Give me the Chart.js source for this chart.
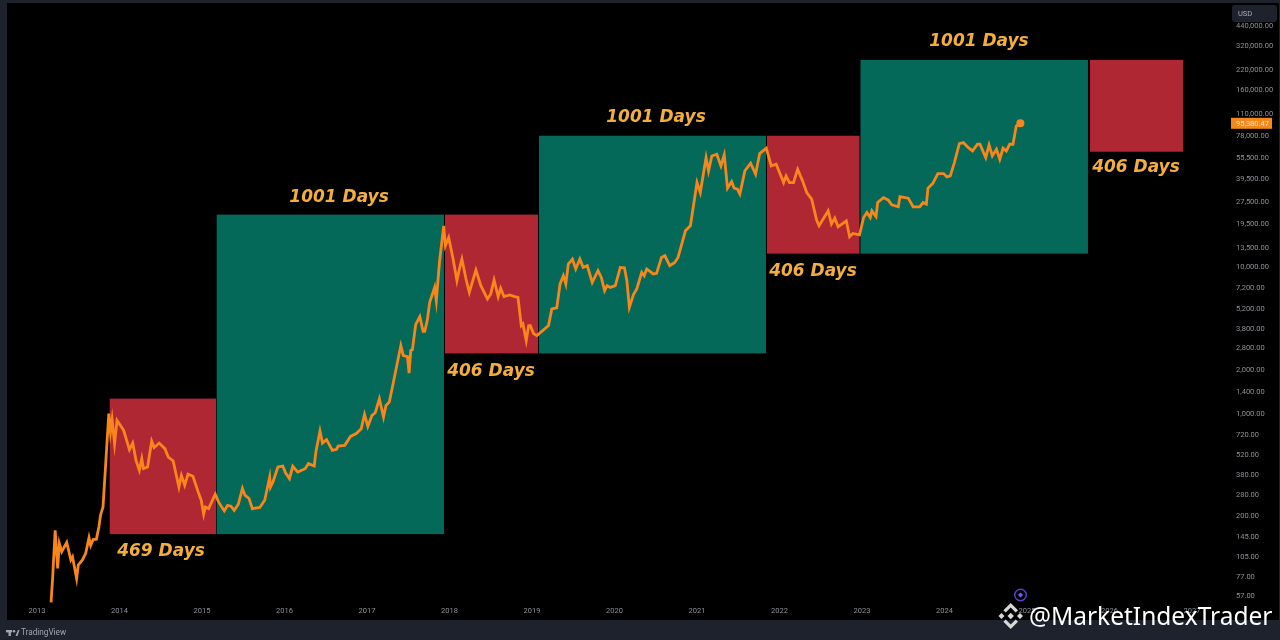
<!DOCTYPE html>
<html>
<head>
<meta charset="utf-8">
<title>BTC cycles</title>
<script src="https://cdn.jsdelivr.net/npm/chart.js@4"></script>
<style>
  html, body { margin: 0; padding: 0; background: #000; }
  canvas { display: block; }
</style>
</head>
<body>
<canvas id="cycleChart" width="1280" height="640"></canvas>
<script>
// price line (decimal year / USD)
const priceYears = [
  2013.17, 2013.19, 2013.22, 2013.25, 2013.27, 2013.30, 2013.36, 2013.41, 2013.43, 2013.48,
  2013.50, 2013.55, 2013.59, 2013.63, 2013.65, 2013.68, 2013.72, 2013.75, 2013.77, 2013.80,
  2013.84, 2013.87, 2013.89, 2013.91, 2013.94, 2013.97, 2014.03, 2014.05, 2014.12, 2014.16,
  2014.20, 2014.24, 2014.27, 2014.29, 2014.34, 2014.39, 2014.42, 2014.48, 2014.55, 2014.59,
  2014.65, 2014.72, 2014.75, 2014.79, 2014.83, 2014.89, 2014.96, 2014.99, 2015.02, 2015.04,
  2015.08, 2015.16, 2015.20, 2015.27, 2015.31, 2015.35, 2015.39, 2015.44, 2015.49, 2015.52,
  2015.57, 2015.61, 2015.70, 2015.76, 2015.82, 2015.83, 2015.86, 2015.92, 2015.98, 2016.01,
  2016.06, 2016.10, 2016.16, 2016.25, 2016.29, 2016.36, 2016.38, 2016.43, 2016.46, 2016.51,
  2016.58, 2016.63, 2016.65, 2016.73, 2016.80, 2016.87, 2016.93, 2016.97, 2017.01, 2017.06,
  2017.10, 2017.15, 2017.20, 2017.23, 2017.27, 2017.32, 2017.41, 2017.44, 2017.49, 2017.51,
  2017.53, 2017.55, 2017.59, 2017.64, 2017.68, 2017.70, 2017.73, 2017.76, 2017.82, 2017.84,
  2017.88, 2017.93, 2017.95, 2017.99, 2018.04, 2018.09, 2018.12, 2018.15, 2018.20, 2018.24,
  2018.32, 2018.38, 2018.46, 2018.50, 2018.54, 2018.59, 2018.62, 2018.66, 2018.73, 2018.79,
  2018.83, 2018.87, 2018.89, 2018.93, 2018.96, 2018.98, 2019.02, 2019.06, 2019.20, 2019.24,
  2019.30, 2019.34, 2019.38, 2019.41, 2019.44, 2019.49, 2019.53, 2019.58, 2019.62, 2019.67,
  2019.73, 2019.80, 2019.84, 2019.88, 2019.91, 2019.95, 2020.01, 2020.07, 2020.12, 2020.15,
  2020.18, 2020.23, 2020.27, 2020.33, 2020.36, 2020.39, 2020.47, 2020.51, 2020.57, 2020.61,
  2020.67, 2020.73, 2020.77, 2020.86, 2020.92, 2021.00, 2021.04, 2021.11, 2021.14, 2021.18,
  2021.24, 2021.29, 2021.33, 2021.37, 2021.42, 2021.45, 2021.49, 2021.52, 2021.58, 2021.65,
  2021.71, 2021.76, 2021.84, 2021.90, 2021.96, 2022.05, 2022.08, 2022.12, 2022.17, 2022.22,
  2022.28, 2022.33, 2022.39, 2022.45, 2022.48, 2022.59, 2022.63, 2022.67, 2022.71, 2022.81,
  2022.85, 2022.89, 2022.97, 2023.02, 2023.06, 2023.10, 2023.12, 2023.17, 2023.19, 2023.26,
  2023.32, 2023.36, 2023.44, 2023.46, 2023.56, 2023.62, 2023.70, 2023.74, 2023.78, 2023.80,
  2023.86, 2023.92, 2023.99, 2024.03, 2024.07, 2024.12, 2024.18, 2024.23, 2024.29, 2024.34,
  2024.40, 2024.43, 2024.50, 2024.54, 2024.58, 2024.63, 2024.67, 2024.71, 2024.75, 2024.79,
  2024.83, 2024.87, 2024.92
];
const priceValues = [
  51.9, 77.6, 161, 88.5, 131, 115, 133, 101, 106, 75.6,
  93.1, 101, 112, 143, 127, 139, 140, 170, 204, 232,
  536, 1003, 751, 912, 626, 902, 804, 771, 570, 632,
  482, 412, 495, 423, 434, 652, 588, 632, 579, 508,
  477, 317, 381, 326, 388, 375, 286, 258, 207, 232,
  226, 283, 251, 218, 238, 235, 220, 242, 310, 279,
  265, 226, 230, 258, 371, 317, 343, 434, 441, 398,
  362, 439, 401, 423, 458, 441, 549, 763, 632, 667,
  564, 573, 603, 610, 702, 733, 792, 991, 821, 975,
  1017, 1267, 950, 1140, 1202, 1643, 2917, 2494, 2457, 1893,
  2698, 2728, 4056, 4597, 3651, 3651, 4316, 5750, 7270, 5904,
  11044, 19100, 13960, 15900, 11630, 8075, 9700, 11340, 8290, 6725,
  9550, 7465, 6060, 6560, 8165, 6290, 7160, 6290, 6450, 6290,
  6220, 3990, 4100, 3156, 3990, 3990, 3506, 3412, 3990, 5185,
  5265, 7670, 8730, 7670, 10490, 11340, 9700, 11340, 9945, 10210,
  7864, 9443, 8500, 6904, 7465, 7270, 7465, 9945, 9900, 8075,
  5315, 6490, 7090, 9200, 8730, 9700, 8970, 9060, 11630, 11940,
  10210, 10755, 11630, 17665, 19100, 37640, 32180, 55660, 45200, 57140,
  58730, 48860, 58090, 34470, 38230, 34470, 33940, 31390, 45200, 50980,
  42940, 59310, 64470, 48860, 50210, 37640, 41780, 37640, 37640, 46420,
  38646, 32180, 29020, 20890, 19100, 24160, 19630, 21550, 18810, 20660,
  16090, 16950, 16600, 21750, 23530, 21750, 24160, 22100, 27520, 29750,
  28570, 26550, 25730, 30230, 29470, 25730, 25730, 27520, 26840, 34470,
  37280, 43360, 43360, 41160, 41780, 51480, 69360, 70410, 65090, 61816,
  68680, 68680, 55660, 67940, 57140, 63490, 54280, 64470, 61816, 68680,
  68680, 91400, 95380
];

// cycle boxes
const zoneStart = [2013.881, 2015.178, 2017.945, 2019.085, 2021.848, 2022.982, 2025.764];
const zoneEnd = [2015.170, 2017.933, 2019.073, 2021.836, 2022.970, 2025.739, 2026.891];
const zoneLow = [151.5, 151.5, 2580, 2580, 12350, 12350, 61060];
const zoneHigh = [1269, 22760, 22760, 78480, 78480, 258000, 258000];
const zoneKind = ["down", "up", "down", "up", "down", "up", "down"];

// captions next to the boxes
const captionText = ["469 Days", "1001 Days", "406 Days", "1001 Days", "406 Days", "1001 Days", "406 Days"];
const captionYear = [2014.503, 2016.661, 2018.503, 2020.503, 2022.406, 2024.418, 2026.321];
const captionValue = [115.8, 29700, 1940, 103900, 9290, 341800, 47500];

// axes
const yearTicks = [2013, 2014, 2015, 2016, 2017, 2018, 2019, 2020, 2021, 2022, 2023, 2024, 2025, 2026, 2027];
const priceTicks = [440000, 320000, 220000, 160000, 110000, 78000, 55500, 39500, 27500, 19500, 13500, 10000,
  7200, 5200, 3800, 2800, 2000, 1400, 1000, 720, 520, 380, 280, 200, 145, 105, 77, 57];
const lastPrice = 95380.47;

const ORANGE = "#F7871B";
const zoneColors = { up: "#05695A", down: "#B02734" };
const PANEL = "#1E222D";
const AXIS_TEXT = "#8E9199";

const zonesPlugin = {
  id: "zones",
  beforeDatasetsDraw(chart) {
    const { ctx, scales: { x, y } } = chart;
    ctx.save();
    zoneStart.forEach((start, i) => {
      const left = x.getPixelForValue(start);
      const right = x.getPixelForValue(zoneEnd[i]);
      const top = y.getPixelForValue(zoneHigh[i]);
      const bottom = y.getPixelForValue(zoneLow[i]);
      ctx.fillStyle = zoneColors[zoneKind[i]];
      ctx.fillRect(left, top, right - left, bottom - top);
    });
    ctx.restore();
  },
  afterDatasetsDraw(chart) {
    const { ctx, scales: { x, y } } = chart;
    ctx.save();
    ctx.font = "italic bold 17px 'DejaVu Sans'";
    ctx.fillStyle = "#F3AE3C";
    ctx.textAlign = "center";
    ctx.textBaseline = "middle";
    captionText.forEach((text, i) => {
      ctx.fillText(text, x.getPixelForValue(captionYear[i]), y.getPixelForValue(captionValue[i]));
    });
    ctx.restore();
  }
};

// TradingView frame, price tag and the watermark
const framePlugin = {
  id: "frame",
  afterDraw(chart) {
    const { ctx, scales: { y } } = chart;
    ctx.save();
    ctx.fillStyle = PANEL;
    ctx.fillRect(0, 0, 7, 640);
    ctx.fillRect(0, 620, 1280, 20);
    ctx.fillRect(0, 0, 1280, 3);
    ctx.fillRect(1279, 0, 1, 640);

    // last price tag
    const tagY = y.getPixelForValue(lastPrice);
    ctx.fillStyle = ORANGE;
    ctx.fillRect(1231, tagY - 5.5, 41, 11);
    ctx.fillStyle = "#FBE3C4";
    ctx.font = "7.5px Roboto";
    ctx.textAlign = "left";
    ctx.textBaseline = "middle";
    ctx.fillText(lastPrice.toLocaleString("en-US"), 1236, tagY + 0.5);

    // currency button
    ctx.fillStyle = PANEL;
    ctx.beginPath();
    ctx.roundRect(1232, 5, 45, 17, 3);
    ctx.fill();
    ctx.fillStyle = "#A9ACB5";
    ctx.font = "7.5px Roboto";
    ctx.fillText("USD", 1238, 14);

    // TradingView mark
    ctx.fillStyle = "#A3A6AE";
    ctx.fillRect(6, 630, 6, 2.4);
    ctx.fillRect(8.5, 630, 2.4, 6);
    ctx.beginPath();
    ctx.arc(14, 631.3, 1.3, 0, Math.PI * 2);
    ctx.fill();
    ctx.beginPath();
    ctx.moveTo(15.5, 636);
    ctx.lineTo(18, 630);
    ctx.lineTo(19.5, 630);
    ctx.lineTo(17.5, 636);
    ctx.fill();
    ctx.font = "8.2px Roboto";
    ctx.fillText("TradingView", 21, 633);

    // purple event marker
    ctx.strokeStyle = "#5E3FD8";
    ctx.lineWidth = 1.4;
    ctx.beginPath();
    ctx.arc(1020.5, 595, 5.8, 0, Math.PI * 2);
    ctx.stroke();
    ctx.fillStyle = "#7A5CF0";
    ctx.beginPath();
    ctx.moveTo(1020.5, 592.5);
    ctx.lineTo(1023, 595);
    ctx.lineTo(1020.5, 597.5);
    ctx.lineTo(1018, 595);
    ctx.fill();

    // watermark logo
    ctx.fillStyle = "#D9D9D9";
    const diamond = (cx, cy, r) => {
      ctx.beginPath();
      ctx.moveTo(cx, cy - r);
      ctx.lineTo(cx + r, cy);
      ctx.lineTo(cx, cy + r);
      ctx.lineTo(cx - r, cy);
      ctx.closePath();
      ctx.fill();
    };
    diamond(1001.5, 616, 3);
    diamond(1020, 616, 3);
    diamond(1010.7, 616, 3.2);
    const chevron = (dir) => {
      ctx.beginPath();
      ctx.moveTo(1010.7, 616 + dir * 13);
      ctx.lineTo(1018, 616 + dir * 5.7);
      ctx.lineTo(1015.7, 616 + dir * 3.4);
      ctx.lineTo(1010.7, 616 + dir * 8.4);
      ctx.lineTo(1005.7, 616 + dir * 3.4);
      ctx.lineTo(1003.4, 616 + dir * 5.7);
      ctx.closePath();
      ctx.fill();
    };
    chevron(-1);
    chevron(1);

    // watermark text
    ctx.fillStyle = "#FFFFFF";
    ctx.font = "24.5px 'Noto Sans'";
    ctx.textBaseline = "alphabetic";
    ctx.fillText("@MarketIndexTrader", 1029, 625);
    ctx.restore();
  }
};

const ctx = document.getElementById("cycleChart").getContext("2d");
const lastIndex = priceValues.length - 1;

new Chart(ctx, {
  type: "line",
  data: {
    datasets: [{
      data: priceYears.map((year, i) => ({ x: year, y: priceValues[i] })),
      borderColor: ORANGE,
      backgroundColor: ORANGE,
      borderWidth: 2.8,
      tension: 0,
      pointRadius: c => (c.dataIndex === lastIndex ? 4 : 0),
      pointBorderWidth: 0,
    }]
  },
  options: {
    responsive: false,
    animation: false,
    layout: { padding: { left: 7, top: 3, bottom: 20, right: 1 } },
    plugins: { legend: { display: false }, tooltip: { enabled: false } },
    scales: {
      x: {
        type: "linear",
        min: 2012.636,
        max: 2027.473,
        grid: { display: false, drawTicks: false },
        border: { display: false },
        afterBuildTicks: axis => { axis.ticks = yearTicks.map(value => ({ value })); },
        afterFit: axis => { axis.height = 16; axis.paddingLeft = 0; axis.paddingRight = 0; },
        ticks: {
          autoSkip: false,
          maxRotation: 0,
          padding: 3,
          color: AXIS_TEXT,
          font: { family: "Roboto", size: 7.5 },
          callback: value => String(value),
        },
      },
      y: {
        type: "logarithmic",
        position: "right",
        min: 50.6,
        max: 620000,
        grid: { display: false, drawTicks: false },
        border: { display: false },
        afterBuildTicks: axis => { axis.ticks = priceTicks.map(value => ({ value })); },
        afterFit: axis => { axis.width = 48; axis.paddingTop = 0; axis.paddingBottom = 0; },
        ticks: {
          autoSkip: false,
          padding: 5,
          color: AXIS_TEXT,
          font: { family: "Roboto", size: 7.5 },
          callback: value => value.toLocaleString("en-US", { minimumFractionDigits: 2 }),
        },
      },
    },
  },
  plugins: [zonesPlugin, framePlugin],
});
</script>
</body>
</html>
